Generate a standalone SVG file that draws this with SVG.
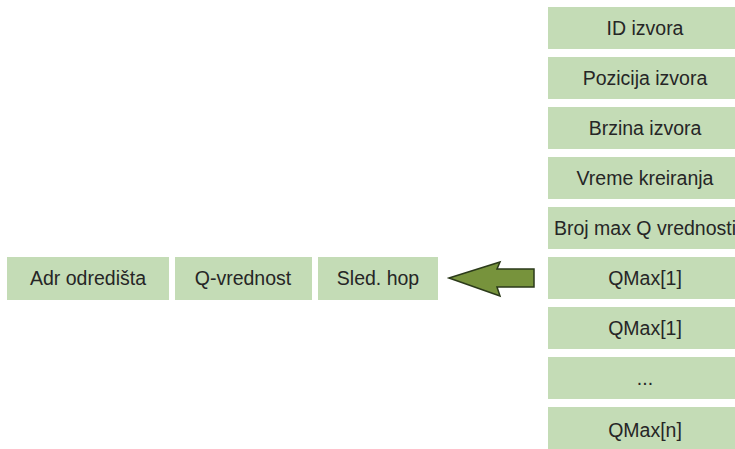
<svg xmlns="http://www.w3.org/2000/svg" width="735" height="449" viewBox="0 0 735 449">
<style>
.b{fill:#c4dcb6}
.t{font-family:"Liberation Sans",Arial,sans-serif;font-size:19.5px;fill:#262626;text-anchor:middle;dominant-baseline:central}
</style>
<rect width="735" height="449" fill="#fff"/>
<g id="n1"><rect class="b" x="548" y="7" width="187" height="42"/><text class="t" x="645" y="28">ID izvora</text></g>
<g id="n2"><rect class="b" x="548" y="57" width="187" height="42"/><text class="t" x="645" y="78">Pozicija izvora</text></g>
<g id="n3"><rect class="b" x="548" y="107" width="187" height="42"/><text class="t" x="645" y="128">Brzina izvora</text></g>
<g id="n4"><rect class="b" x="548" y="157" width="187" height="42"/><text class="t" x="645" y="178">Vreme kreiranja</text></g>
<g id="n5"><rect class="b" x="548" y="207" width="187" height="42"/><text class="t" x="645" y="228">Broj max Q vrednosti</text></g>
<g id="n6"><rect class="b" x="548" y="257" width="187" height="42"/><text class="t" x="645" y="278">QMax[1]</text></g>
<g id="n7"><rect class="b" x="548" y="307" width="187" height="42"/><text class="t" x="645" y="328">QMax[1]</text></g>
<g id="n8"><rect class="b" x="548" y="357" width="187" height="42"/><text class="t" x="645" y="378">...</text></g>
<g id="n9"><rect class="b" x="548" y="407" width="187" height="42"/><text class="t" x="645" y="430">QMax[n]</text></g>
<g id="a1"><rect class="b" x="7" y="257" width="162" height="43"/><text class="t" x="88" y="278">Adr odredišta</text></g>
<g id="a2"><rect class="b" x="175" y="257" width="137" height="43"/><text class="t" x="243" y="278">Q-vrednost</text></g>
<g id="a3"><rect class="b" x="318" y="257" width="120" height="43"/><text class="t" x="378" y="278">Sled. hop</text></g>
<g id="connectors">
<path d="M449,278 L500,262 L497,269 L534,269 L534,287 L497,287 L500,296 Z" fill="#77933c" stroke="#2b3a1a" stroke-width="1.5" stroke-linejoin="miter"/>
</g>
</svg>
